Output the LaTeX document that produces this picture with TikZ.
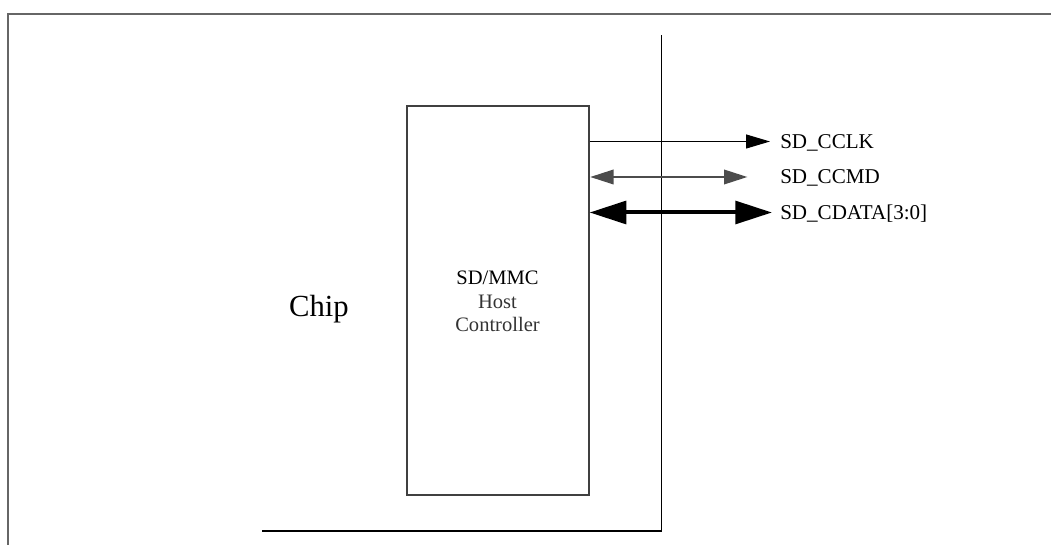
\documentclass[tikz,border=0pt]{standalone}
\usepackage{fontspec}
\setmainfont{Liberation Serif}
\usetikzlibrary{arrows.meta}
\tikzset{
  px/.style={x=0.75pt,y=-0.75pt},
  frame/.style={draw=black!60,line width=1.1pt},
  chipline/.style={draw=black,line width=0.8pt},
  hostbox/.style={draw=black!75,line width=0.9pt,minimum width=136.5pt,minimum height=291.75pt,inner sep=0pt},
  lbl/.style={font=\fontsize{15.8}{19}\selectfont,inner sep=0pt,text depth=0pt,anchor=west},
  clkarrow/.style={draw=black,line width=0.8pt,-{Triangle[length=18pt,width=10.5pt]}},
  cmdarrow/.style={draw=black!70,line width=1.1pt,{Triangle[length=17.5pt,width=11pt]}-{Triangle[length=17.5pt,width=11pt]}},
  dataarrow/.style={draw=black,line width=3pt,{Triangle[length=27.5pt,width=17pt]}-{Triangle[length=27.5pt,width=17pt]}},
}
\begin{document}
\begin{tikzpicture}[px]
\useasboundingbox (0,0) rectangle (1051,545);
% outer frame
\draw[frame] (8,546) -- (8,14) -- (1052,14);
% chip boundary
\draw[chipline] (262,531) -- (661.5,531) -- (661.5,35);
% host controller
\node[hostbox] (host) at (498,300.5) {};
\node[font=\fontsize{15.4}{17.6}\selectfont,align=center,inner sep=0pt] (hosttext) at (497.5,301.5)
  {SD/MMC\\\textcolor{black!80}{Host}\\\textcolor{black!80}{Controller}};
% chip label
\node[font=\fontsize{23}{27}\selectfont,inner sep=0pt,anchor=base] (chip) at (319,317) {Chip};
% signal labels
\node[lbl] (clk) at (780,141.5) {SD\_CCLK};
\node[lbl] (cmd) at (780,177) {SD\_CCMD};
\node[lbl] (dat) at (780,212.5) {SD\_CDATA[3:0]};
% arrows
\draw[clkarrow] (host.east |- clk.west) -- ([xshift=-7.5pt]clk.west);
\draw[cmdarrow] ([xshift=0.5pt]host.east |- cmd.west) -- ([xshift=-24.5pt]cmd.west);
\draw[dataarrow] (host.east |- dat.west) -- ([xshift=-6pt]dat.west);
\end{tikzpicture}
\end{document}
